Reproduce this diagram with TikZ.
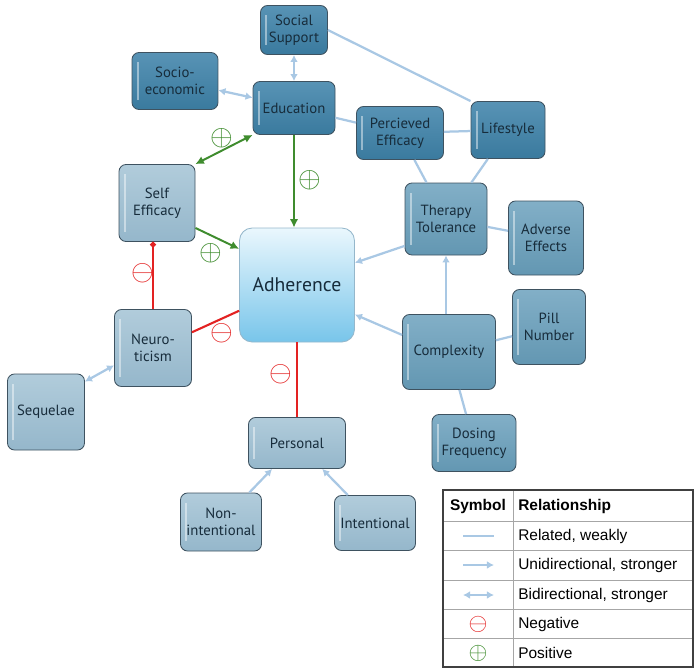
\documentclass[tikz,border=0pt]{standalone}
\usepackage{amsmath,amssymb}
\usepackage{fontspec}
\usepackage{xcolor}
\usetikzlibrary{arrows.meta, positioning, calc}
\setmainfont{Liberation Sans}
\newfontfamily\boxfont{PT Sans}
\definecolor{DarkTeal}{HTML}{3A7A9E}
\definecolor{DarkTealTop}{HTML}{5893B5}
\definecolor{MidTeal}{HTML}{6397B2}
\definecolor{MidTealTop}{HTML}{82AFC7}
\definecolor{PaleTeal}{HTML}{95B7CB}
\definecolor{PaleTealTop}{HTML}{B1CCDB}
\definecolor{SkyTop}{HTML}{EAF7FD}
\definecolor{SkyBottom}{HTML}{78C5EA}
\definecolor{BoxEdge}{HTML}{3E5260}
\definecolor{BoxText}{HTML}{172C3B}
\definecolor{LinkBlue}{HTML}{A9C8E4}
\definecolor{PosGreen}{HTML}{3F8C2E}
\definecolor{NegRed}{HTML}{E32222}
\tikzset{
  sz/.style 2 args={minimum width=#1*0.025cm, minimum height=#2*0.025cm},
  box/.style={draw=BoxEdge, line width=0.6pt, rounded corners=5pt, align=center,
    inner sep=1pt, text=BoxText, font=\boxfont\fontsize{10.5}{12}\selectfont,
    path picture={\draw[white, opacity=0.45, line width=1.5pt]
      ([xshift=4pt,yshift=-7pt]path picture bounding box.north west) --
      ([xshift=4pt,yshift=7pt]path picture bounding box.south west);}},
  darkbox/.style={box, top color=DarkTealTop, bottom color=DarkTeal},
  midbox/.style={box, top color=MidTealTop, bottom color=MidTeal},
  palebox/.style={box, top color=PaleTealTop, bottom color=PaleTeal},
  mainbox/.style={box, path picture={}, draw=PaleTeal, rounded corners=9pt, top color=SkyTop,
    bottom color=SkyBottom, font=\boxfont\fontsize{14}{16}\selectfont},
  weak/.style={draw=LinkBlue, line width=1.6pt},
  uni/.style={weak, -{Latex[length=5pt,width=5.5pt]}},
  bi/.style={weak, {Latex[length=5pt,width=5.5pt]}-{Latex[length=5pt,width=5.5pt]}},
  poslink/.style={draw=PosGreen, line width=1.4pt},
  neglink/.style={draw=NegRed, line width=1.5pt},
  possign/.style={text=PosGreen, font=\huge, inner sep=0pt},
  negsign/.style={text=NegRed, font=\huge, inner sep=0pt},
  legtxt/.style={font=\fontsize{11}{13}\selectfont, anchor=west, inner sep=0pt}
}

\begin{document}
\begin{tikzpicture}[x=0.025cm, y=-0.025cm]
  \useasboundingbox (0,0) rectangle (699,671);

  % Nodes
  \node[darkbox, sz={67}{49}] (soc) at (294,30) {Social\\Support};
  \node[darkbox, sz={86}{57}] (eco) at (175,81) {Socio-\\economic};
  \node[darkbox, sz={82}{53}] (edu) at (294,108) {Education};
  \node[darkbox, sz={87}{53}] (perc) at (400,133) {Percieved\\Efficacy};
  \node[darkbox, sz={74}{57}] (life) at (508,130) {Lifestyle};
  \node[palebox, sz={76}{77}] (self) at (157,203) {Self\\Efficacy};
  \node[midbox, sz={82}{72}] (ther) at (446,219) {Therapy\\Tolerance};
  \node[midbox, sz={75}{74}] (adv) at (546,238) {Adverse\\Effects};
  \node[mainbox, sz={115}{114}] (adh) at (297,285) {Adherence};
  \node[midbox, sz={73}{75}] (pill) at (549,327) {Pill\\Number};
  \node[midbox, sz={93}{75}] (comp) at (449,352) {Complexity};
  \node[palebox, sz={77}{77}] (neuro) at (153,348) {Neuro-\\ticism};
  \node[palebox, sz={77}{76}] (seq) at (46,412) {Sequelae};
  \node[palebox, sz={97}{51}] (pers) at (297,443) {Personal};
  \node[midbox, sz={84}{57}] (dose) at (474,443) {Dosing\\Frequency};
  \node[palebox, sz={81}{58}] (nonint) at (221,522) {Non-\\intentional};
  \node[palebox, sz={81}{55}] (intent) at (375,523) {Intentional};

  % Weak and stronger links
  \draw[bi] (soc.south) -- (edu.north);
  \draw[bi] (eco.-12) -- (edu.166);
  \draw[weak] (soc.east) -- (life.north west);
  \draw[weak] (edu) -- (perc);
  \draw[weak] (perc) -- (life);
  \draw[weak] (perc) -- (ther);
  \draw[weak] (life) -- (ther);
  \draw[weak] (ther) -- (adv);
  \draw[uni] (ther.213) -- (adh.21);
  \draw[uni] (ther.south |- comp.north) -- (ther.south);
  \draw[uni] (comp.160) -- (adh.-27);
  \draw[weak] (comp) -- (pill);
  \draw[weak] (comp) -- (dose);
  \draw[bi] (neuro.204) -- (seq.38);
  \draw[uni] (nonint) -- (pers);
  \draw[uni] (intent) -- (pers);

  % Positive and negative links
  \draw[poslink, -{Latex[length=6pt,width=6pt]}] (edu.south) -- (edu.south |- adh.north);
  \draw[poslink, {Latex[length=6pt,width=6pt]}-{Latex[length=6pt,width=6pt]}] (edu.south west) -- (self.north east);
  \draw[poslink, -{Latex[length=6pt,width=6pt]}] (self.-33) -- (adh.148);
  \draw[neglink, -{Circle[length=4pt]}] (neuro.north) -- (neuro.north |- self.south);
  \draw[neglink] (neuro.22) -- (adh.204);
  \draw[neglink] (adh.south) -- (pers.north);

  % Signs
  \node[possign] (s1) at (222,138) {$\oplus$};
  \node[possign] (s2) at (310,180) {$\oplus$};
  \node[possign] (s3) at (211,253) {$\oplus$};
  \node[negsign] (s4) at (143,273) {$\ominus$};
  \node[negsign] (s5) at (222,333) {$\ominus$};
  \node[negsign] (s6) at (281,374) {$\ominus$};

  % Legend
  \draw[gray!70] (443,521) -- (693,521) (443,550) -- (693,550) (443,580) -- (693,580)
    (443,609) -- (693,609) (443,638) -- (693,638) (513,490) -- (513,667);
  \draw[black!75, line width=0.8pt] (443,490) rectangle (693,667);
  \node[legtxt, anchor=center] (hsym) at (478,506) {\textbf{Symbol}};
  \node[legtxt] (hrel) at (518,506) {\textbf{Relationship}};
  \node[legtxt] (r1) at (518,536) {Related, weakly};
  \node[legtxt] (r2) at (518,565) {Unidirectional, stronger};
  \node[legtxt] (r3) at (518,595) {Bidirectional, stronger};
  \node[legtxt] (r4) at (518,624) {Negative};
  \node[legtxt] (r5) at (518,653) {Positive};
  \coordinate (k1a) at (463,536); \coordinate (k1b) at (494,536);
  \coordinate (k2a) at (463,565); \coordinate (k2b) at (494,565);
  \coordinate (k3a) at (463,595); \coordinate (k3b) at (494,595);
  \draw[weak] (k1a) -- (k1b);
  \draw[uni] (k2a) -- (k2b);
  \draw[bi] (k3a) -- (k3b);
  \node[negsign, font=\LARGE] (k4) at (478,624) {$\ominus$};
  \node[possign, font=\LARGE] (k5) at (478,653) {$\oplus$};
\end{tikzpicture}
\end{document}
